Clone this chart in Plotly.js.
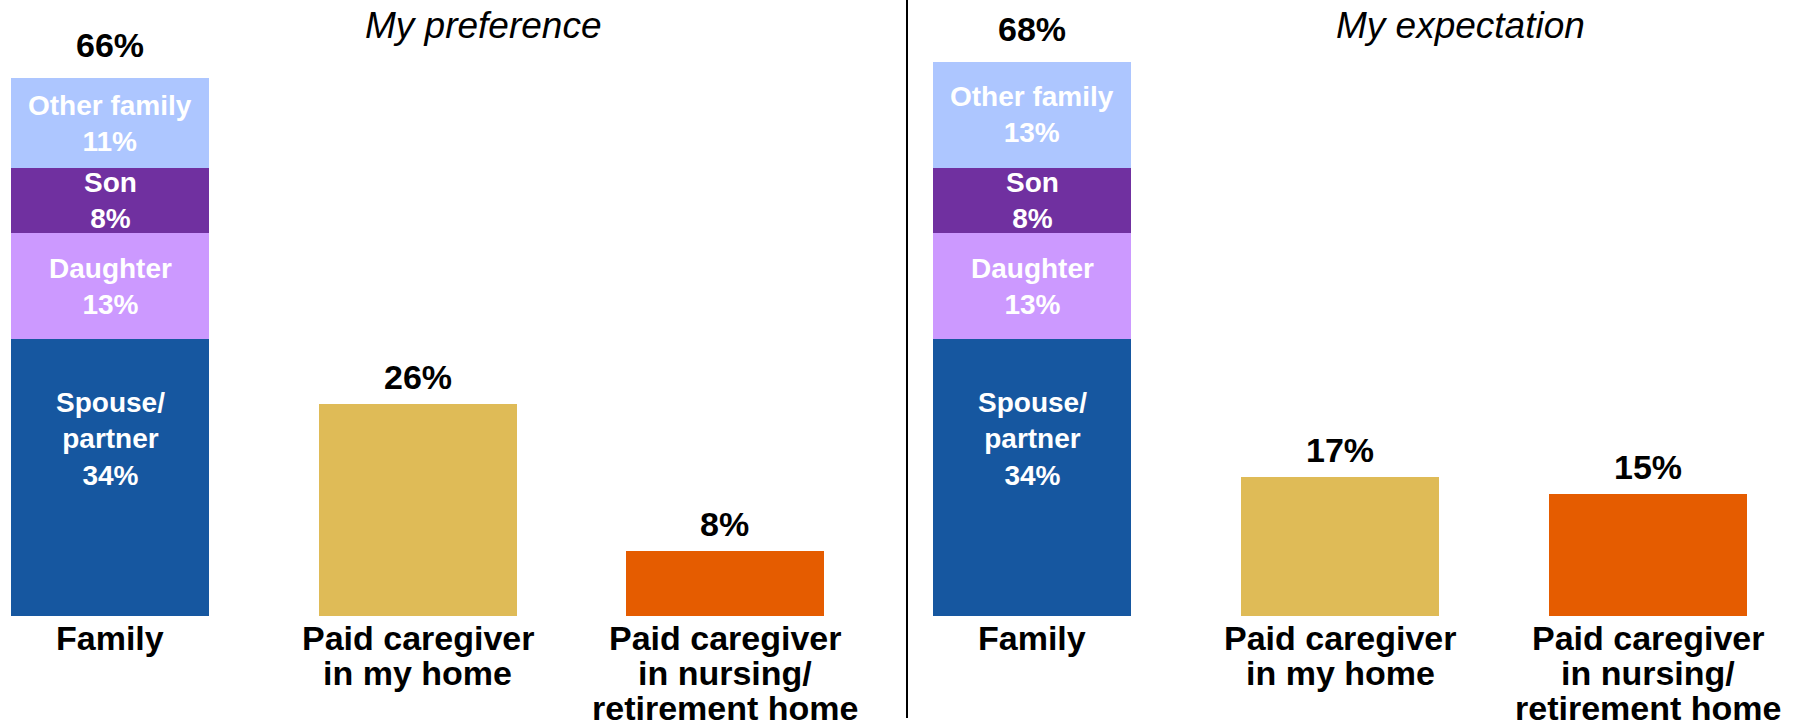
<!DOCTYPE html>
<html>
<head>
<meta charset="utf-8">
<script src="https://cdn.plot.ly/plotly-3.0.1.min.js"></script>
<style>
  html, body { margin: 0; padding: 0; background: #fff; }
  #plot { width: 1816px; height: 728px; }
</style>
</head>
<body>
<div id="plot"></div>
<script>
const plot = document.getElementById("plot");

// categories and their printed label lines
const categories = ["Family", "Paid caregiver in my home", "Paid caregiver in nursing/retirement home"];
const categoryLines = [
  ["Family"],
  ["Paid caregiver", "in my home"],
  ["Paid caregiver", "in nursing/", "retirement home"]
];

// family breakdown, bottom to top
const familyParts = ["Spouse/<br>partner", "Daughter", "Son", "Other family"];
const prefFamily = [34, 13, 8, 11];
const expFamily = [34, 13, 8, 13];

// paid caregivers (home, nursing/retirement home)
const prefPaid = [26, 8];
const expPaid = [17, 15];

const panelTitles = ["My preference", "My expectation"];

const familyColors = ["#1657a0", "#cc99ff", "#7030a0", "#adc6ff"];
const paidColors = ["#dfbb57", "#e55c00"];

const FONT = "Liberation Sans, Arial, sans-serif";
const spouseLabelLift = 38;

const traces = [];
const annotations = [];

function addPanel(n, famVals, paidVals, titleX) {
  const xa = n === 0 ? "x" : "x2";
  const ya = n === 0 ? "y" : "y2";

  let base = 0;
  for (let i = 0; i < famVals.length; i++) {
    traces.push({
      type: "bar",
      x: [categories[0]],
      y: [famVals[i]],
      xaxis: xa,
      yaxis: ya,
      marker: { color: familyColors[i] },
      hoverinfo: "skip"
    });
    annotations.push({
      xref: xa,
      yref: ya,
      x: categories[0],
      y: base + famVals[i] / 2,
      yanchor: "middle",
      yshift: i === 0 ? spouseLabelLift : 0,
      text: familyParts[i] + "<br>" + famVals[i] + "%",
      showarrow: false,
      font: { family: FONT, size: 28, color: "#ffffff", weight: "bold" }
    });
    base += famVals[i];
  }

  traces.push({
    type: "bar",
    x: categories.slice(1),
    y: paidVals,
    xaxis: xa,
    yaxis: ya,
    marker: { color: paidColors },
    hoverinfo: "skip"
  });

  // value labels above each bar (family total on top of the stack)
  const tops = [base].concat(paidVals);
  tops.forEach((v, i) => {
    annotations.push({
      xref: xa,
      yref: ya,
      x: categories[i],
      y: v,
      yanchor: "bottom",
      yshift: i === 0 ? 12 : 6,
      text: v + "%",
      showarrow: false,
      font: { family: FONT, size: 34, color: "#000000", weight: "bold" }
    });
  });

  categoryLines.forEach((lines, i) => {
    lines.forEach((line, j) => {
      annotations.push({
        xref: xa,
        yref: ya,
        x: categories[i],
        y: 0,
        yanchor: "top",
        yshift: -1 - j * 35,
        text: line,
        showarrow: false,
        font: { family: FONT, size: 34, color: "#000000", weight: "bold" }
      });
    });
  });

  annotations.push({
    xref: "paper",
    yref: "paper",
    x: titleX,
    y: 1,
    xanchor: "center",
    yanchor: "top",
    yshift: -3,
    text: "<i>" + panelTitles[n] + "</i>",
    showarrow: false,
    font: { family: FONT, size: 37, color: "#000000" }
  });
}

addPanel(0, prefFamily, prefPaid, 483 / 1816);
addPanel(1, expFamily, expPaid, 1460 / 1816);

const hiddenX = {
  type: "category",
  categoryorder: "array",
  categoryarray: categories,
  showticklabels: false,
  showgrid: false,
  zeroline: false,
  showline: false,
  ticks: "",
  fixedrange: true
};
const hiddenY = {
  range: [0, 75.6],
  visible: false,
  fixedrange: true
};

const split = 907 / 1816;

Plotly.newPlot(
  plot,
  traces,
  {
    width: 1816,
    height: 728,
    margin: { l: 0, r: 0, t: 0, b: 112 },
    paper_bgcolor: "#ffffff",
    plot_bgcolor: "#ffffff",
    barmode: "stack",
    bargap: 0.356,
    showlegend: false,
    xaxis: Object.assign({}, hiddenX, { domain: [0, split], range: [-0.358, 2.592], anchor: "y" }),
    yaxis: Object.assign({}, hiddenY, { anchor: "x" }),
    xaxis2: Object.assign({}, hiddenX, { domain: [split, 1], range: [-0.406, 2.545], anchor: "y2" }),
    yaxis2: Object.assign({}, hiddenY, { anchor: "x2" }),
    annotations: annotations,
    shapes: [
      {
        type: "line",
        xref: "paper",
        yref: "paper",
        x0: split,
        x1: split,
        y0: -102 / 616,
        y1: 1,
        line: { color: "#000000", width: 2 }
      }
    ]
  },
  { displayModeBar: false, staticPlot: true }
);
</script>
</body>
</html>
